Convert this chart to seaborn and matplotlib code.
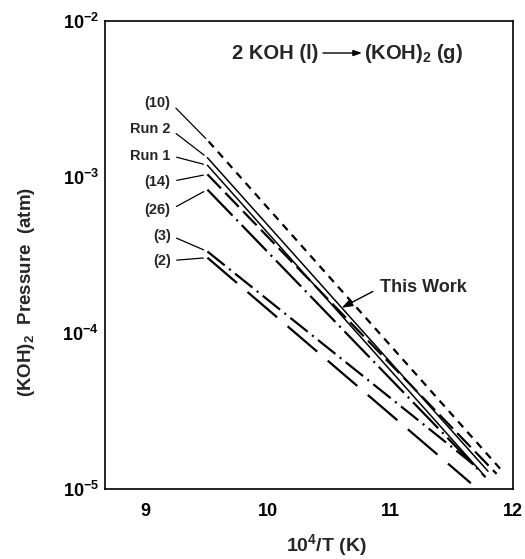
import numpy as np
import pandas as pd
import matplotlib
matplotlib.use("Agg")
import matplotlib.pyplot as plt
import seaborn as sns
from matplotlib.ticker import FixedLocator, NullFormatter, FuncFormatter

# Literature and measured (KOH)2 pressure lines, straight in log P vs 10^4/T
sources = ["(10)", "Run 2", "Run 1", "(14)", "(26)", "(3)", "(2)"]
inv_t_start = [9.52, 9.51, 9.51, 9.51, 9.51, 9.51, 9.51]
inv_t_end = [11.91, 11.80, 11.75, 11.87, 11.78, 11.72, 11.66]
p_start = [1.69e-3, 1.33e-3, 1.19e-3, 1.04e-3, 8.3e-4, 3.33e-4, 3.04e-4]
p_end = [1.32e-5, 1.30e-5, 1.27e-5, 1.25e-5, 1.19e-5, 1.36e-5, 1.09e-5]

# Line styles (dash sequences in points; None = solid)
dash_styles = [(5.5, 4.5), None, None, (14, 4.5), (26, 4, 1.5, 4), (16, 4, 1.5, 4), (28, 10)]
line_widths = [1.6, 1.1, 1.1, 1.6, 1.6, 1.6, 1.6]

# Where the source labels sit (10^4/T, pressure)
label_x = 9.21
label_p = [2.99e-3, 2.02e-3, 1.37e-3, 9.35e-4, 6.18e-4, 4.21e-4, 2.91e-4]

x_ticks = [9, 10, 11, 12]
y_ticks = [1e-5, 1e-4, 1e-3, 1e-2]
y_minor = [2e-5, 3e-5, 4e-5, 5e-5, 6e-5, 7e-5, 8e-5, 9e-5]

sns.set_style("white")
plt.rcParams["font.family"] = ["Liberation Sans", "DejaVu Sans"]
plt.rcParams["font.weight"] = "bold"
plt.rcParams["axes.labelweight"] = "bold"
plt.rcParams["mathtext.fontset"] = "custom"
plt.rcParams["mathtext.rm"] = "Liberation Sans:bold"
plt.rcParams["mathtext.it"] = "Liberation Sans:italic:bold"
plt.rcParams["mathtext.bf"] = "Liberation Sans:bold"
plt.rcParams["mathtext.default"] = "rm"
plt.rcParams["lines.scale_dashes"] = False

df = pd.DataFrame({
    "source": np.repeat(sources, 2),
    "inv_t": np.ravel(np.column_stack([inv_t_start, inv_t_end])),
    "p": np.ravel(np.column_stack([p_start, p_end])),
})

fig = plt.figure(figsize=(5.25, 5.59), dpi=100)
ax = fig.add_axes([104.5 / 525, 1 - 489 / 559, 408 / 525, 468 / 559])
ax.set_yscale("log")

for src, dash, lw in zip(sources, dash_styles, line_widths):
    sub = df[df["source"] == src]
    sns.lineplot(data=sub, x="inv_t", y="p", color="black", linewidth=lw,
                 estimator=None, sort=False, ax=ax)
    if dash is not None:
        ax.lines[-1].set_dashes(dash)

ax.set_xlim(8.67, 12.0)
ax.set_ylim(1e-5, 1e-2)

# Source labels with leader lines to each line's start
for src, x0, p0, lp in zip(sources, inv_t_start, p_start, label_p):
    ax.annotate(src, xy=(x0, p0), xytext=(label_x, lp), ha="right", va="center",
                fontsize=10.5, fontweight="bold",
                arrowprops=dict(arrowstyle="-", lw=0.9, color="black",
                                shrinkA=2, shrinkB=3, relpos=(1, 0.5)))

# "This Work" pointer onto the Run 2 line
run_idx = sources.index("Run 2")
tip_x = 10.606
frac = (tip_x - inv_t_start[run_idx]) / (inv_t_end[run_idx] - inv_t_start[run_idx])
tip_p = 10 ** (np.log10(p_start[run_idx]) + frac * (np.log10(p_end[run_idx]) - np.log10(p_start[run_idx])))
ax.annotate("This Work", xy=(tip_x, tip_p), xytext=(10.918, 1.95e-4),
            ha="left", va="center", fontsize=13, fontweight="bold",
            arrowprops=dict(arrowstyle="-|>,head_length=0.5,head_width=0.18",
                            lw=1.0, color="black", shrinkA=3, shrinkB=0,
                            relpos=(0, 0.5)))

# Reaction heading
ax.text(0.523, 0.9316, "2 KOH (l)", transform=ax.transAxes, ha="right",
        va="center", fontsize=14.5, fontweight="bold")
ax.annotate("", xy=(0.631, 0.9316), xytext=(0.5355, 0.9316),
            xycoords="axes fraction", textcoords="axes fraction",
            arrowprops=dict(arrowstyle="-|>,head_length=0.5,head_width=0.18",
                            lw=1.0, color="black", shrinkA=0, shrinkB=0))
ax.text(0.636, 0.9316, "(KOH)$_2$ (g)", transform=ax.transAxes, ha="left",
        va="center", fontsize=14.5, fontweight="bold")

# Axes, ticks and labels
ax.set_xticks(x_ticks)
ax.set_xticklabels([str(t) for t in x_ticks])
ax.yaxis.set_major_locator(FixedLocator(y_ticks))
ax.yaxis.set_major_formatter(FuncFormatter(lambda v, pos: "$10^{%d}$" % round(np.log10(v))))
ax.yaxis.set_minor_locator(FixedLocator(y_minor))
ax.yaxis.set_minor_formatter(NullFormatter())
ax.xaxis.set_minor_locator(FixedLocator([]))

ax.tick_params(axis="x", which="major", direction="in", length=8, width=1.1,
               pad=10, labelsize=13, colors="black")
ax.tick_params(axis="y", which="major", direction="in", length=10, width=1.1,
               pad=4, labelsize=13, colors="black")
ax.tick_params(axis="y", which="minor", direction="in", length=7, width=1.1)
ax.tick_params(top=False, right=False)

for s in ax.spines.values():
    s.set_color("black")
    s.set_linewidth(1.2)

ax.set_xlabel("10$^4$/T (K)", fontsize=14, fontweight="bold", x=0.545, labelpad=9)
ax.set_ylabel("(KOH)$_2$  Pressure  (atm)", fontsize=13.5, fontweight="bold")
ax.yaxis.set_label_coords(-0.165, 0.42)

fig.savefig("out.png", dpi=100)
